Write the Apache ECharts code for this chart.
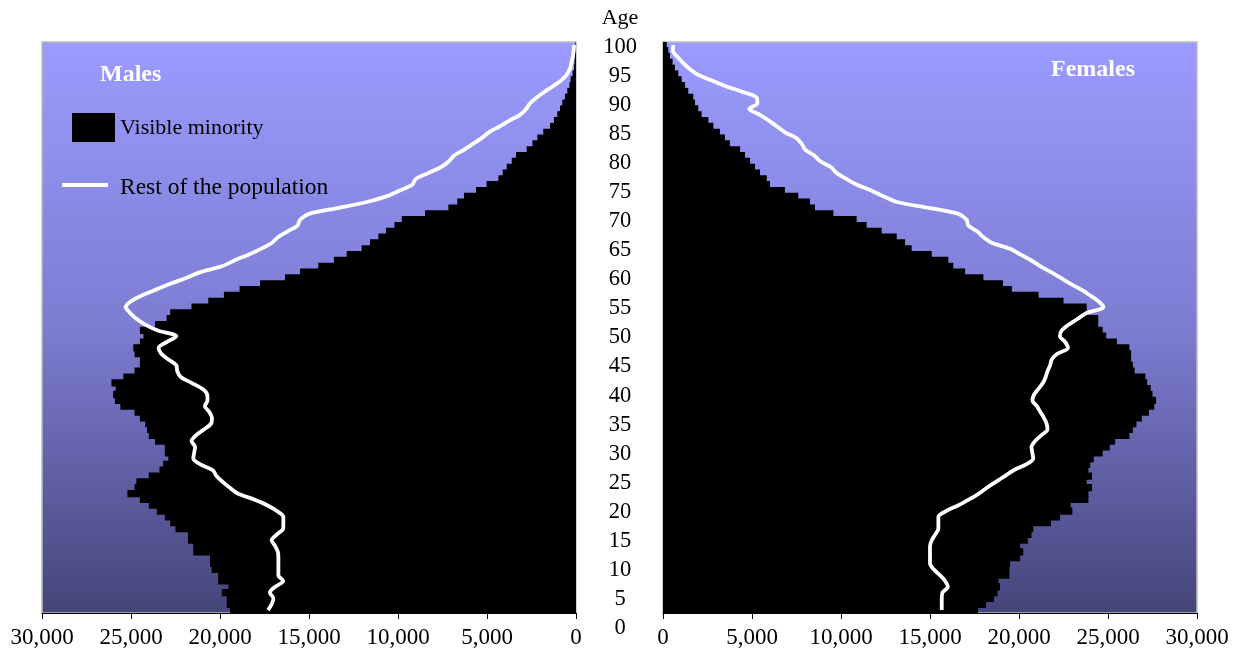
<!DOCTYPE html>
<html>
<head>
<meta charset="utf-8">
<script src="https://cdn.jsdelivr.net/npm/echarts@6/dist/echarts.min.js"></script>
<style>
html,body{margin:0;padding:0;background:#fff;}
#chart{width:1241px;height:665px;}
</style>
</head>
<body>
<div id="chart"></div>
<script>
// Ages (categories), bottom to top
const ages = [3,4,5,6,7,8,9,10,11,12,13,14,15,16,17,18,19,20,21,22,23,24,25,26,27,28,29,30,31,32,33,34,35,36,37,38,39,40,41,42,43,44,45,46,47,48,49,50,51,52,53,54,55,56,57,58,59,60,61,62,63,64,65,66,67,68,69,70,71,72,73,74,75,76,77,78,79,80,81,82,83,84,85,86,87,88,89,90,91,92,93,94,95,96,97,98,99,100];

// Males: visible minority (bars)
const maleVisible = [19440,19620,19620,19900,19530,20100,20100,20470,20560,20560,21500,21500,21800,21800,22500,22800,23100,23550,24000,24500,25200,24800,24700,24000,23400,23200,22900,23100,23100,23650,24000,24100,24200,24500,24800,25600,25900,26000,25860,26100,25430,24800,24500,24500,24800,24870,24500,24300,24500,23650,23000,22800,21600,20660,19780,18900,17750,16350,15500,14480,13600,12880,12040,11570,11100,10670,10200,9790,8480,7170,6670,6290,5620,5020,4360,4120,3890,3610,3370,2770,2450,2170,1840,1460,1240,1050,900,770,620,490,370,300,190,110,80,60,40,30];
// Males: rest of the population (line)
const maleRest = [17300,17100,17000,17200,16900,16450,16720,16720,16720,16720,16750,16900,17100,16800,16450,16440,16440,16800,17350,18100,19000,19450,19850,20200,20400,21100,21500,21450,21400,21600,21350,20900,20500,20450,20600,20850,20700,20720,21000,21600,22200,22400,22450,22900,23300,23450,23000,22450,23500,24200,24700,25050,25300,25000,24400,23600,22800,21900,21100,19900,19200,18400,17700,17100,16750,16200,15650,15500,15000,13400,11800,10650,9900,9200,9000,8300,7600,7150,6850,6300,5800,5300,4900,4300,3750,3150,2800,2580,2200,1750,1250,800,500,330,250,180,130,110];

// Females: visible minority (bars)
const femaleVisible = [17700,18150,18600,18800,18930,18840,19460,19460,19500,20060,20240,20060,20500,20700,20800,21800,22300,23000,22900,23900,23900,24100,23800,24100,23900,24000,24200,24700,25100,25400,26200,26400,26600,26900,27300,27600,27700,27500,27400,27200,27100,26500,26400,26300,26300,26200,25500,24900,24700,24450,24450,23800,23800,22500,21100,19600,19100,18000,16970,16310,16030,15100,13970,13600,13130,12290,11440,10880,9570,8540,8260,7600,6850,6010,5830,5450,5170,4890,4610,4330,3760,3480,3200,2830,2550,2170,1980,1800,1700,1420,1240,1050,860,670,540,390,300,210];
// Females: rest of the population (line)
const femaleRest = [15660,15660,15660,15700,16000,15850,15550,15200,15000,15000,15000,15000,15100,15300,15470,15470,15470,15900,16600,17200,17750,18200,18700,19200,19700,20400,20800,20750,20700,20900,21250,21600,21550,21400,21200,21000,20750,20850,21100,21350,21500,21600,21750,21840,22150,22750,22600,22300,22400,22800,23300,23800,24750,24460,24000,23500,22900,22350,21800,21200,20700,20100,19500,18500,18000,17650,17150,17060,16600,15000,13200,12400,11700,10900,10300,9750,9450,8850,8500,8000,7800,7500,6850,6400,5950,5450,4850,5300,5250,4400,3450,2640,1900,1450,1100,800,550,580];

// Age labels (middle column) and x ticks
const ageTicks = [0,5,10,15,20,25,30,35,40,45,50,55,60,65,70,75,80,85,90,95,100];
const popMax = 30000;
const popStep = 5000;

const FONT = "'Liberation Serif','Times New Roman',serif";
const bg = {type:'linear',x:0,y:0,x2:0,y2:1,colorStops:[{offset:0,color:'#9b9bff'},{offset:0.5,color:'#7c7cd2'},{offset:1,color:'#45457a'}]};
const fmt = v => v.toLocaleString('en-US');

const chart = echarts.init(document.getElementById('chart'), null, {renderer:'canvas'});
const barStyle = {color:'#000'};
chart.setOption({
  animation:false,
  backgroundColor:'#ffffff',
  grid:[
    {left:42, right:665, top:42, bottom:52, show:true, backgroundColor:bg, borderColor:'#bdbdbd', borderWidth:1.5},
    {left:663, right:44, top:42, bottom:52, show:true, backgroundColor:bg, borderColor:'#bdbdbd', borderWidth:1.5},
    {left:620, width:1, top:47, bottom:37}
  ],
  xAxis:[
    {gridIndex:0, type:'value', inverse:true, min:0, max:popMax, interval:popStep,
     axisLine:{show:true,onZero:false,lineStyle:{color:'#000',width:1}},
     axisTick:{show:true,length:6,lineStyle:{color:'#000'}},
     splitLine:{show:false},
     axisLabel:{color:'#000',fontFamily:FONT,fontSize:23,margin:13,formatter:fmt}},
    {gridIndex:1, type:'value', min:0, max:popMax, interval:popStep,
     axisLine:{show:true,onZero:false,lineStyle:{color:'#000',width:1}},
     axisTick:{show:true,length:6,lineStyle:{color:'#000'}},
     splitLine:{show:false},
     axisLabel:{color:'#000',fontFamily:FONT,fontSize:23,margin:13,formatter:fmt}},
    {gridIndex:2, type:'value', show:false}
  ],
  yAxis:[
    {gridIndex:0, type:'category', data:ages, show:false, boundaryGap:true},
    {gridIndex:1, type:'category', data:ages, show:false, boundaryGap:true},
    {gridIndex:2, type:'value', min:0, max:100, interval:5,
     name:'Age', nameLocation:'end', nameGap:18,
     nameTextStyle:{color:'#000',fontFamily:FONT,fontSize:22,align:'center'},
     axisLine:{show:false}, axisTick:{show:false}, splitLine:{show:false},
     axisLabel:{color:'#000',fontFamily:FONT,fontSize:22.5,margin:0,align:'center',
       formatter:v => ageTicks.indexOf(v) >= 0 ? String(v) : ''}}
  ],
  series:[
    {name:'Visible minority', type:'bar', xAxisIndex:0, yAxisIndex:0, data:maleVisible,
     barWidth:'125%', barCategoryGap:'0%', itemStyle:barStyle, silent:true},
    {name:'Rest of the population', type:'line', xAxisIndex:0, yAxisIndex:0, data:maleRest,
     showSymbol:false, smooth:0.3, lineStyle:{color:'#fff',width:3.8}, z:5},
    {name:'Visible minority', type:'bar', xAxisIndex:1, yAxisIndex:1, data:femaleVisible,
     barWidth:'125%', barCategoryGap:'0%', itemStyle:barStyle, silent:true},
    {name:'Rest of the population', type:'line', xAxisIndex:1, yAxisIndex:1, data:femaleRest,
     showSymbol:false, smooth:0.3, lineStyle:{color:'#fff',width:3.8}, z:5}
  ],
  graphic:[
    {type:'text', left:100, top:63, style:{text:'Males', fill:'#fff', font:"bold 24px 'Liberation Serif','Times New Roman',serif"}, z:100},
    {type:'text', left:1051, top:58, style:{text:'Females', fill:'#fff', font:"bold 24px 'Liberation Serif','Times New Roman',serif"}, z:100},
    {type:'rect', shape:{x:72,y:113,width:43,height:29}, style:{fill:'#000'}, z:100},
    {type:'text', left:120, top:117, style:{text:'Visible minority', fill:'#000', font:"22px 'Liberation Serif','Times New Roman',serif"}, z:100},
    {type:'line', shape:{x1:62,y1:185,x2:108,y2:185}, style:{stroke:'#fff', lineWidth:3.8}, z:100},
    {type:'text', left:120, top:176, style:{text:'Rest of the population', fill:'#000', font:"23.5px 'Liberation Serif','Times New Roman',serif"}, z:100}
  ]
});
</script>
</body>
</html>
